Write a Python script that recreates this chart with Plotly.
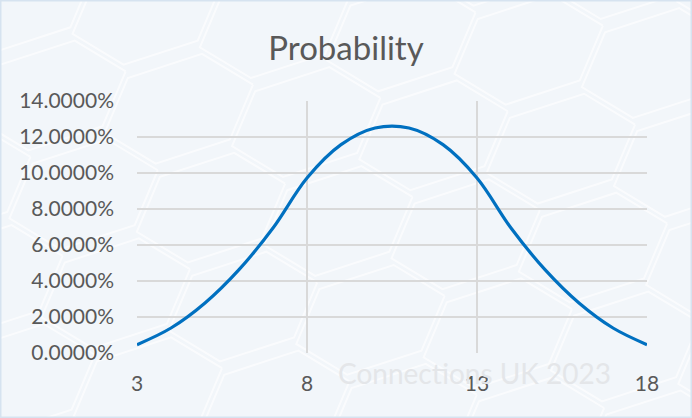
import math
import plotly.graph_objects as go

# Sum of three dice and the probability of each total (percent)
totals = [3, 4, 5, 6, 7, 8, 9, 10, 11, 12, 13, 14, 15, 16, 17, 18]
probability_pct = [0.463, 1.389, 2.778, 4.630, 6.944, 9.722, 11.574, 12.500,
                   12.500, 11.574, 9.722, 6.944, 4.630, 2.778, 1.389, 0.463]
y_ticks = [0, 2, 4, 6, 8, 10, 12, 14]
y_tick_labels = ["%.4f%%" % v for v in y_ticks]
x_ticks = [3, 8, 13, 18]

W, H = 692, 418
ML, MR, MT, MB = 137, 45, 101, 65
PW, PH = W - ML - MR, H - MT - MB


def px_to_paper(px, py):
    return (px - ML) / PW, 1 - (py - MT) / PH


fig = go.Figure()
fig.add_trace(go.Scatter(
    x=totals, y=probability_pct, mode="lines",
    line=dict(color="#0070C0", width=3.2, shape="spline", smoothing=1.0),
    hoverinfo="skip", showlegend=False,
))

font_family = "Lato, Carlito, Calibri, sans-serif"

fig.update_layout(
    width=W, height=H,
    margin=dict(l=ML, r=MR, t=MT, b=MB),
    paper_bgcolor="#f2f6fa",
    plot_bgcolor="rgba(0,0,0,0)",
    title=dict(text="Probability", x=0.5, xanchor="center", y=0.885, yanchor="middle",
               font=dict(family=font_family, size=33, color="#595959")),
    xaxis=dict(range=[3, 18], tickvals=x_ticks, ticktext=[str(v) for v in x_ticks],
               showgrid=True, gridcolor="#d9d9d9", gridwidth=1.5,
               showline=False, zeroline=False, ticks="",
               tickfont=dict(family=font_family, size=21, color="#595959"),
               ticklabelstandoff=16),
    yaxis=dict(range=[0, 14], tickvals=y_ticks, ticktext=y_tick_labels,
               showgrid=True, gridcolor="#d9d9d9", gridwidth=1.5,
               showline=False, zeroline=False, ticks="",
               tickfont=dict(family=font_family, size=21, color="#595959"),
               ticklabelstandoff=22),
    font=dict(family=font_family),
)

# Faint honeycomb texture in the chart background (slightly rotated hex grid)
R, r = 78, 52
rot = math.radians(-18)
segs = []
col = 0
cx = -250
while cx < W + 250:
    cy = -250 + (col % 2) * r
    while cy < H + 250:
        pts = []
        for k in range(7):
            a = math.radians(60 * k)
            hx = cx + R * math.cos(a)
            hy = cy + r * math.sin(a)
            x = 346 + (hx - 346) * math.cos(rot) - (hy - 209) * math.sin(rot)
            y = 209 + (hx - 346) * math.sin(rot) + (hy - 209) * math.cos(rot)
            pts.append(px_to_paper(x, y))
        segs.append("M " + " L ".join("%.4f,%.4f" % p for p in pts))
        cy += 2 * r
    cx += 1.5 * R
    col += 1
fig.add_shape(type="path", xref="paper", yref="paper", path=" ".join(segs),
              line=dict(color="rgba(255,255,255,0.6)", width=2), layer="below")

# Outer frame of the chart area
x0, y1 = px_to_paper(0, 0)
x1, y0 = px_to_paper(W, H)
fig.add_shape(type="rect", xref="paper", yref="paper", x0=x0, x1=x1, y0=y0, y1=y1,
              line=dict(color="#d6e3f0", width=3), layer="below")

# Watermark
wx, wy = px_to_paper(474, 373)
fig.add_annotation(text="Connections UK 2023", xref="paper", yref="paper",
                   x=wx, y=wy, showarrow=False,
                   font=dict(family=font_family, size=28, color="#e4e6e9"),
                   xanchor="center", yanchor="middle")

fig.write_html("out.html")
